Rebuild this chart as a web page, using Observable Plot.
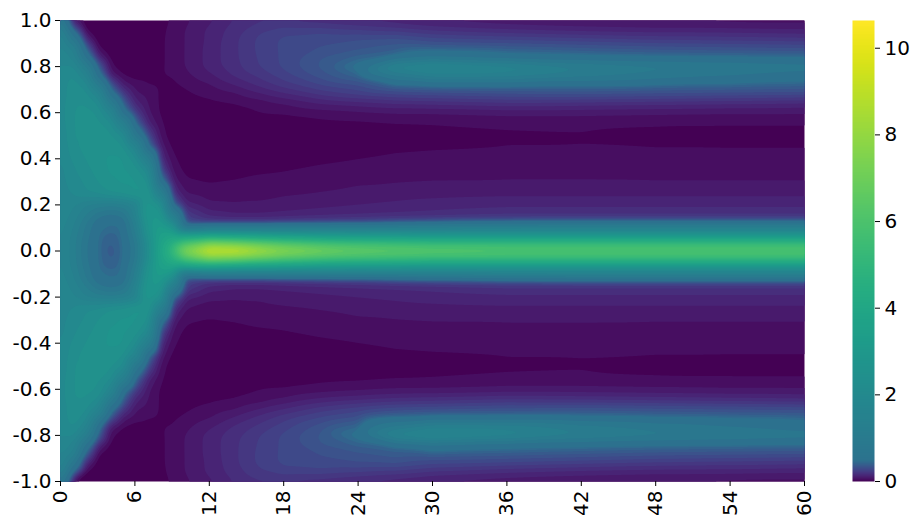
<!DOCTYPE html>
<html><head><meta charset="utf-8">
<script src="https://cdn.jsdelivr.net/npm/d3@7"></script>
<script src="https://cdn.jsdelivr.net/npm/@observablehq/plot@0.6"></script>
<style>
html,body{margin:0;padding:0;background:#fff}
#c{position:relative;width:920px;height:528px}
#c svg{position:absolute;left:0;top:0;background:transparent}
</style></head><body><div id="c"></div>
<script>
const xs=[0,1,2,3,4,5,6,7,8,9,10,12,14,16,18,21,24,27,30,36,42,48,54,60];
// rows read for the upper half; the picture is mirror symmetric about y = 0
const ys=[1,.96,.92,.88,.84,.8,.76,.72,.68,.64,.6,.55,.5,.45,.4,.35,.3,.25,.2,.16,.13,.11,.09,.07,.05,.03,0];
const rows=[
[.9,.05,0,0,0,0,0,0,.03,.055,.08,.12,.17,.2,.2,.18,.16,.14,.12,.1,.09,.08,.07,.07],
[1.5,.4,.03,0,0,0,0,0,.04,.06,.09,.14,.19,.24,.27,.27,.25,.23,.2,.17,.15,.14,.14,.13],
[1.8,.9,.15,.01,0,0,0,.01,.04,.065,.09,.14,.2,.26,.3,.32,.33,.34,.3,.28,.26,.24,.23,.22],
[1.8,1.5,.4,.05,.01,0,0,.01,.04,.065,.09,.145,.2,.26,.3,.33,.36,.39,.4,.39,.37,.35,.34,.33],
[2,1.7,.7,.15,.03,.01,0,.01,.04,.065,.09,.145,.2,.255,.3,.37,.42,.48,.7,.55,.5,.47,.46,.45],
[2,2.1,1.3,.4,.06,.02,.01,.02,.04,.065,.09,.145,.195,.25,.3,.38,.55,1.7,2,1.7,1.3,1.1,1,.9],
[2.1,2.3,1.8,.6,.12,.05,.03,.04,.045,.05,.075,.12,.175,.22,.27,.35,.43,1,1.4,1.4,1.1,.9,.75,.6],
[2.1,2.4,2.2,1.2,.35,.12,.07,.05,.045,.04,.055,.085,.13,.18,.23,.29,.33,.42,.45,.46,.46,.44,.43,.42],
[2.1,2.4,2.4,1.9,.6,.25,.1,.08,.045,.03,.04,.06,.08,.12,.16,.22,.26,.29,.3,.32,.33,.32,.31,.3],
[2.1,2.5,2.5,2.3,1.2,.4,.15,.09,.045,.02,.03,.04,.05,.065,.09,.13,.15,.17,.18,.2,.19,.18,.17,.16],
[2.1,2.5,2.6,2.5,1.9,.6,.25,.1,.045,.02,.02,.02,.03,.05,.055,.07,.08,.09,.09,.1,.1,.095,.09,.09],
[2.1,2.5,2.6,2.6,2.4,1.5,.45,.15,.06,.02,.01,.01,.01,.02,.02,.035,.04,.048,.052,.06,.06,.055,.055,.055],
[2,2.5,2.6,2.7,2.6,2.3,.9,.3,.08,.02,.01,.01,.01,.01,.01,.01,.01,.015,.02,.04,.045,.03,.02,.02],
[2,2.4,2.6,2.7,2.7,2.6,1.9,.5,.12,.04,.02,.01,.01,.01,.01,.03,.035,.04,.045,.052,.052,.05,.05,.05],
[2,2.3,2.5,2.7,2.8,2.8,2.4,1.4,.18,.06,.03,.01,.01,.01,.02,.035,.048,.06,.065,.07,.07,.07,.07,.07],
[1.9,2.2,2.4,2.6,2.8,2.8,2.7,2.2,.3,.08,.04,.02,.03,.045,.048,.065,.075,.078,.08,.085,.085,.08,.08,.08],
[1.9,2.1,2.3,2.5,2.7,2.8,2.8,2.6,.6,.12,.06,.048,.055,.06,.07,.08,.085,.087,.09,.09,.09,.09,.09,.09],
[1.9,2,2.2,2.3,2.5,2.6,2.8,2.9,1.5,.2,.09,.07,.07,.08,.085,.09,.1,.11,.115,.12,.12,.12,.12,.12],
[2,1.8,1.5,1.35,1.3,1.4,1.7,3,2.6,.4,.15,.1,.095,.095,.105,.12,.13,.14,.15,.16,.16,.16,.16,.16],
[1.9,1.7,1.3,.9,.7,.85,1.7,3,3,1.2,.25,.15,.13,.13,.14,.15,.16,.17,.18,.2,.2,.2,.2,.2],
[1.9,1.6,1.1,.6,.5,.55,1.4,2.9,3.2,2,.3,.22,.2,.2,.21,.23,.25,.27,.28,.3,.3,.3,.3,.3],
[1.85,1.55,1,.55,.47,.5,1.3,2.8,3.4,2.8,.4,.38,.4,.42,.45,.48,.5,.6,.7,.9,1,1,1,1],
[1.85,1.5,.95,.5,.46,.48,1.2,2.7,3.5,3.3,1.3,1.8,1.8,1.8,1.9,1.9,1.9,2,2,2,2,2,2,2],
[1.8,1.45,.9,.48,.43,.47,1.1,2.6,3.6,3.8,3.5,3.5,3.3,3.2,3,2.8,2.7,2.7,2.6,2.6,2.6,2.6,2.6,2.6],
[1.8,1.4,.85,.47,.41,.46,1,2.4,3.7,4.3,4.8,5.6,5.4,5,4.8,4.5,4.4,4.3,4.2,4.2,4.2,4.2,4.2,4.2],
[1.8,1.4,.8,.47,.4,.45,.9,2.3,3.7,4.8,6.3,7.8,7.5,7,6.5,6,5.8,5.7,5.6,5.6,5.6,5.6,5.6,5.6],
[1.8,1.4,.8,.47,.38,.45,.9,2.3,3.8,5.2,7.5,9.4,9.4,8.6,7.9,7.3,6.8,6.6,6.4,6.2,6.2,6.2,6.2,6.2]
];
const xTicks=[0,6,12,18,24,30,36,42,48,54,60];
const yTicks=[-1,-.8,-.6,-.4,-.2,0,.2,.4,.6,.8,1];
const barTicks=[0,2,4,6,8,10];
const vMax=10.64;
const knotValue=.5, knotColor=.38;
const lowLevels=[.05,.09,.13,.17,.21,.25,.29,.33,.37,.41,.45,.49];
const highLevels=d3.range(.75,10.64,.25);
const levels=[...lowLevels,...highLevels];

const points=[];
ys.forEach((y,i)=>xs.forEach((x,j)=>{
  points.push({x,y,v:rows[i][j]});
  if(y>0) points.push({x,y:-y,v:rows[i][j]});
}));

const color={type:"linear",domain:[0,vMax],interpolate:t=>{
  const v=t*vMax;
  const u=v<knotValue?v/knotValue*knotColor:knotColor+(v-knotValue)/(vMax-knotValue)*(1-knotColor);
  return d3.interpolateViridis(u);
}};
const font={fontFamily:"'DejaVu Sans',sans-serif",color:"#000",background:"transparent"};
const fontSize=20;
const main=Plot.plot({
  width:920,height:528,marginLeft:60,marginRight:116,marginTop:20,marginBottom:47,
  style:font,color,
  x:{domain:[0,60]},y:{domain:[-1,1]},
  marks:[
    Plot.frame({fill:"#440154",stroke:"none"}),
    Plot.contour(points,{x:"x",y:"y",fill:"v",interpolate:"barycentric",thresholds:levels,pixelSize:1,blur:3,stroke:"none"}),
    Plot.axisX({ticks:xTicks,tickSize:5,tickPadding:4,tickRotate:-90,label:null,fontSize,tickFormat:d=>String(d),stroke:"#000",strokeOpacity:1,fill:"#000"}),
    Plot.axisY({ticks:yTicks,tickSize:5,tickPadding:4,label:null,fontSize,tickFormat:d=>d.toFixed(1),stroke:"#000",strokeOpacity:1,fill:"#000"})
  ]
});
const bar=Plot.plot({
  width:920,height:528,marginLeft:852,marginRight:46,marginTop:20,marginBottom:47,
  style:font,color,
  x:{domain:[0,1],axis:null},y:{domain:[0,vMax]},
  marks:[
    Plot.raster({x1:0,x2:1,y1:0,y2:vMax,pixelSize:1,fill:(x,y)=>y}),
    Plot.axisY({anchor:"right",ticks:barTicks,tickSize:5,tickPadding:5,label:null,fontSize,stroke:"#000",strokeOpacity:1,fill:"#000"})
  ]
});
document.getElementById("c").append(main,bar);
</script></body></html>
